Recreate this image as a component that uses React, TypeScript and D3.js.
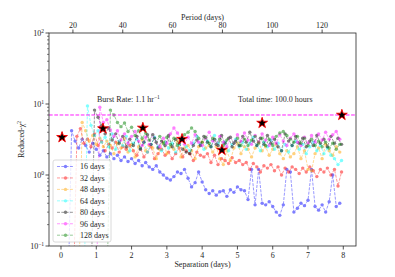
import React from 'react';
import * as d3 from 'd3';

const W = 395;
const H = 277;
const M = { left: 49, right: 356, top: 33, bottom: 246 };

// separation grid step (days) for all period curves
const STEP = 0.1;

const periods = ['16 days', '32 days', '48 days', '64 days', '80 days', '96 days', '128 days'];
const colors = ['#0000ff', '#ff0000', '#ffa500', '#00ffff', '#000000', '#ff00ff', '#008000'];
const starts = [0.2, 0.35, 0.5, 0.65, 0.85, 1.0, 1.3];

const chi16 = [
    0.02, 4.2, 3.0, 2.4, 3.2, 2.6, 2.1, 2.8, 2.3, 1.9, 2.2, 1.8, 2.0, 1.7, 1.9, 1.6, 1.8, 1.55, 1.7, 1.45,
    1.6, 1.35, 1.5, 1.3, 1.2, 1.35, 1.1, 1.0, 0.9, 0.85, 0.95, 1.1, 1.05, 1.2, 0.9, 0.68, 0.78, 1.1, 0.8, 0.62,
    0.55, 0.6, 0.52, 0.58, 0.6, 0.5, 0.62, 0.57, 0.68, 0.62, 0.6, 0.45, 1.2, 0.38, 1.2, 0.4, 0.38, 0.42, 0.36, 0.3,
    0.27, 0.38, 1.2, 1.1, 0.3, 0.34, 0.4, 0.37, 0.44, 1.2, 0.36, 0.32, 0.38, 0.3, 0.42, 1.0, 0.36, 0.4,
];
const chi32 = [
    0.02, 3.5, 4.5, 2.8, 3.2, 2.5, 3.8,
    2.6, 3.0, 2.2, 2.7, 2.4, 2.9, 2.1, 2.5, 2.3, 2.6,
    2.2, 1.9, 2.4, 1.8, 2.1, 2.5, 1.7, 2.0, 2.3, 1.9,
    2.1, 1.7, 2.0, 2.4, 1.8, 2.2, 2.0, 1.6, 2.1, 1.9,
    1.8, 2.0, 1.5, 1.9, 1.4, 1.7, 1.6, 1.45, 1.75, 1.5,
    1.6, 1.4, 1.5, 1.2, 1.45, 1.3, 1.1, 1.35, 1.25, 1.4,
    1.15, 1.3, 1.0, 1.25, 1.1, 1.3, 1.2, 1.05, 1.25, 1.1,
    1.3, 1.15, 0.95, 1.2, 1.1, 1.25, 1.0, 1.2, 0.7, 1.1,
];
const chi48 = [
    0.02, 5.5, 4.2, 3.0, 3.6, 2.7, 3.3, 2.5, 3.0, 2.6, 2.0, 2.8, 2.4, 3.3, 2.1, 2.7, 1.8, 2.5, 3.1, 2.2,
    2.6, 2.4, 1.7, 2.3, 2.9, 2.0, 2.5, 2.3, 3.0, 1.8, 2.4, 2.6, 2.2, 1.7, 2.5, 2.9, 2.4, 2.6, 2.1, 2.5,
    1.7, 1.4, 2.2, 1.6, 2.4, 2.8, 2.0, 2.5, 2.3, 1.8, 2.4, 2.9, 2.2, 2.5, 1.9, 2.3, 2.7, 2.0, 1.7, 2.2,
    1.8, 2.0, 2.5, 1.7, 2.2, 1.2, 1.15, 2.0, 2.4, 1.7, 2.7, 2.2, 1.9, 2.5, 2.1,
];
const chi64 = [
    0.02, 9.4, 5.0, 3.6, 4.2, 2.9, 3.4, 2.5, 3.8, 2.3, 3.0, 2.6, 3.5, 2.2, 2.8, 3.2, 2.4, 2.9, 2.1, 2.7,
    3.4, 2.5, 2.2, 2.9, 2.4, 2.8, 2.1, 2.7, 3.2, 2.5, 2.2, 2.8, 3.5, 2.7, 2.3, 3.0, 2.5, 3.6, 2.8, 2.3,
    2.9, 2.2, 2.7, 3.2, 2.5, 2.9, 2.3, 2.8, 3.4, 2.6, 2.2, 2.9, 2.5, 3.1, 2.3, 2.8, 2.2, 2.7, 2.1, 2.6,
    3.0, 2.3, 2.7, 2.0, 2.5, 2.9, 2.2, 2.6, 2.0, 2.4, 1.9, 1.7, 1.4, 1.6,
];
const chi80 = [
    0.02, 8.2, 6.5, 5.0, 3.8, 4.6, 3.1, 3.8, 2.8, 3.5, 2.5, 3.2, 2.6, 3.5, 2.3, 2.9, 3.7, 2.7, 3.3, 2.4,
    3.0, 2.6, 3.6, 2.5, 3.2, 2.8, 2.3, 2.1, 2.0, 2.6, 3.1, 2.6, 3.5, 2.9, 2.5, 3.2, 2.6, 3.6, 2.8, 3.3,
    2.5, 3.0, 2.6, 3.5, 2.9, 4.0, 3.0, 2.6, 3.3, 2.7, 3.6, 2.8, 3.2, 2.5, 2.2, 3.8, 3.0, 2.6, 3.5, 2.8,
    3.3, 2.5, 3.0, 2.6, 3.6, 2.8, 3.2, 2.5, 3.5, 2.8, 3.3, 2.7,
];
const chi96 = [
    0.02, 9.0, 5.5, 6.0, 4.3, 3.5, 4.2, 3.1, 3.8, 2.8, 3.5, 4.1, 3.0, 2.6, 3.4, 2.7, 3.7, 2.9, 2.5, 3.3,
    2.8, 3.8, 4.6, 3.9, 3.1, 2.7, 3.4, 2.8, 3.7, 2.9, 2.6, 3.3, 4.0, 3.0, 2.7, 3.5, 2.9, 2.5, 3.4, 2.8,
    3.7, 3.0, 3.9, 3.1, 2.7, 3.6, 2.9, 3.8, 3.1, 2.6, 3.4, 2.8, 3.7, 3.0, 2.6, 3.3, 3.8, 2.9, 2.6, 3.4,
    2.8, 3.6, 2.9, 3.8, 3.1, 4.0, 3.2, 3.7, 4.1, 3.2,
];
const chi128 = [
    0.02, 8.2, 7.0, 5.5, 4.8, 5.4, 4.1, 4.7, 3.6, 4.2, 3.3, 3.9, 3.1, 3.7, 2.9, 3.5, 2.8, 3.4, 2.7, 3.3,
    2.6, 3.2, 3.7, 4.0, 4.6, 4.1, 3.3, 2.9, 3.4, 2.8, 3.3, 2.7, 3.2, 2.6, 3.1, 3.4, 2.8, 3.3, 2.6, 3.2,
    2.6, 3.1, 3.5, 2.8, 3.3, 2.6, 3.2, 2.6, 3.5, 3.9, 4.1, 3.6, 3.2, 2.9, 3.5, 2.8, 3.3, 2.6, 3.2, 2.6,
    3.0, 2.5, 2.9, 2.4, 2.8, 2.3, 2.7,
];
const chiSeries = [chi16, chi32, chi48, chi64, chi80, chi96, chi128];

// burst markers (stars)
const burstSep = [0.03, 1.19, 2.32, 3.43, 4.56, 5.7, 7.96];
const burstChi = [3.4, 4.5, 4.6, 3.2, 2.25, 5.4, 7.0];

const threshold = 7.0;
const sepTicks = [0, 1, 2, 3, 4, 5, 6, 7, 8];
const periodTicks = [20, 40, 60, 80, 100, 120];
const yTicks = [0.1, 1, 10, 100];
const yTickExp = ['\u22121', '0', '1', '2'];

const FONT = '"Liberation Serif", "DejaVu Serif", serif';
const INK = '#262626';

const x = d3.scaleLinear().domain([-0.34, 8.36]).range([M.left, M.right]);
const xTop = d3.scaleLinear().domain([10.4, 133.6]).range([M.left, M.right]);
const y = d3.scaleLog().domain([0.1, 100]).range([M.bottom, M.top]);

const line = d3
    .line<[number, number]>()
    .x(d => x(d[0]))
    .y(d => y(Math.max(d[1], 0.001)));

const minorY = d3.range(-1, 2).flatMap(e => d3.range(2, 10).map(k => k * Math.pow(10, e)));

const starPath = d3.symbol(d3.symbolStar, 36)() as string;

const App = () => {
    const pts = chiSeries.map((vals, i) => vals.map((v, j) => [starts[i] + j * STEP, v] as [number, number]));
    const legX = 53;
    const legY = 160;
    const rowH = 11.45;

    return (
        <div style={{ position: 'absolute', left: 0, top: 0 }}>
            <svg width={W} height={H} style={{ display: 'block', background: '#fff' }} fontFamily={FONT}>
                <defs>
                    <clipPath id='plot'>
                        <rect x={M.left} y={M.top} width={M.right - M.left} height={M.bottom - M.top} />
                    </clipPath>
                </defs>

                <g clipPath='url(#plot)'>
                    {pts.map((p, i) => (
                        <g key={periods[i]} opacity={0.5}>
                            <path
                                d={line(p) as string}
                                fill='none'
                                stroke={colors[i]}
                                strokeWidth={0.8}
                                strokeDasharray='3,1.3'
                            />
                            {p.map((d, j) => (
                                <circle key={j} cx={x(d[0])} cy={y(Math.max(d[1], 0.001))} r={1.7} fill={colors[i]} />
                            ))}
                        </g>
                    ))}
                    <line
                        x1={M.left}
                        x2={M.right}
                        y1={y(threshold)}
                        y2={y(threshold)}
                        stroke='#ff00ff'
                        strokeWidth={0.9}
                        strokeDasharray='3.7,1.6'
                    />
                    {burstSep.map((s, i) => (
                        <path
                            key={i}
                            d={starPath}
                            transform={`translate(${x(s)},${y(burstChi[i])})`}
                            fill='#000'
                            stroke='#ff0000'
                            strokeWidth={0.9}
                        />
                    ))}
                </g>

                {/* frame */}
                <rect
                    x={M.left}
                    y={M.top}
                    width={M.right - M.left}
                    height={M.bottom - M.top}
                    fill='none'
                    stroke={INK}
                    strokeWidth={0.8}
                />

                {/* bottom axis */}
                {sepTicks.map(t => (
                    <g key={t} transform={`translate(${x(t)},${M.bottom})`}>
                        <line y2={3.5} stroke={INK} strokeWidth={0.8} />
                        <text y={11.5} textAnchor='middle' fontSize={8} fill={INK}>
                            {t}
                        </text>
                    </g>
                ))}
                <text x={(M.left + M.right) / 2} y={267} textAnchor='middle' fontSize={8} fill={INK}>
                    Separation (days)
                </text>

                {/* top axis */}
                {periodTicks.map(t => (
                    <g key={t} transform={`translate(${xTop(t)},${M.top})`}>
                        <line y2={-3.5} stroke={INK} strokeWidth={0.8} />
                        <text y={-5.5} textAnchor='middle' fontSize={8} fill={INK}>
                            {t}
                        </text>
                    </g>
                ))}
                <text x={(M.left + M.right) / 2} y={20} textAnchor='middle' fontSize={8} fill={INK}>
                    Period (days)
                </text>

                {/* left log axis */}
                {minorY.map(t => (
                    <line key={t} x1={M.left} x2={M.left - 2} y1={y(t)} y2={y(t)} stroke={INK} strokeWidth={0.6} />
                ))}
                {yTicks.map((t, i) => (
                    <g key={t} transform={`translate(${M.left},${y(t)})`}>
                        <line x2={-3.5} stroke={INK} strokeWidth={0.8} />
                        <text x={-5} y={3} textAnchor='end' fontSize={8} fill={INK}>
                            10
                            <tspan dy={-3.5} fontSize={5.5}>
                                {yTickExp[i]}
                            </tspan>
                        </text>
                    </g>
                ))}
                <text
                    transform={`translate(24,${(M.top + M.bottom) / 2}) rotate(-90)`}
                    textAnchor='middle'
                    fontSize={8}
                    fill={INK}
                >
                    Reduced-χ
                    <tspan dy={-3.5} fontSize={5.5}>
                        2
                    </tspan>
                </text>

                {/* annotations */}
                <text x={97} y={102} fontSize={8} fill={INK}>
                    Burst Rate: 1.1 hr
                    <tspan dy={-3.5} fontSize={5.5}>
                        −1
                    </tspan>
                </text>
                <text x={238} y={102} fontSize={8} fill={INK}>
                    Total time: 100.0 hours
                </text>

                {/* legend */}
                <rect
                    x={legX}
                    y={legY}
                    width={58}
                    height={82}
                    rx={2}
                    fill='#fff'
                    fillOpacity={0.8}
                    stroke='#d0d0d0'
                    strokeWidth={0.8}
                />
                {periods.map((p, i) => {
                    const ry = legY + 6.5 + i * rowH;
                    return (
                        <g key={p}>
                            <g opacity={0.5}>
                                <line
                                    x1={legX + 4}
                                    x2={legX + 21}
                                    y1={ry}
                                    y2={ry}
                                    stroke={colors[i]}
                                    strokeWidth={0.8}
                                    strokeDasharray='3,1.3'
                                />
                                <circle cx={legX + 12.5} cy={ry} r={1.7} fill={colors[i]} />
                            </g>
                            <text x={legX + 27} y={ry + 2.8} fontSize={8} fill={INK}>
                                {p}
                            </text>
                        </g>
                    );
                })}
            </svg>
        </div>
    );
};

export default App;
